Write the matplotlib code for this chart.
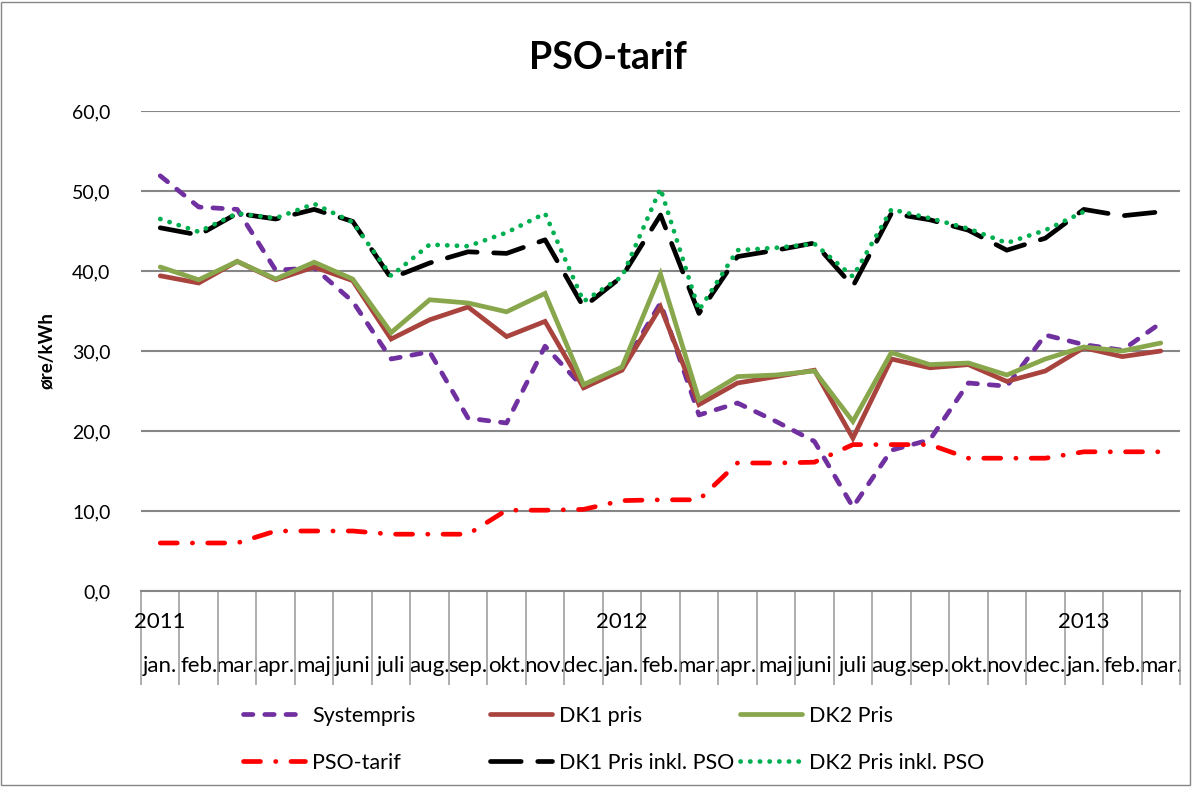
import numpy as np
import matplotlib
matplotlib.use("Agg")
from matplotlib import pyplot as plt
from matplotlib.patches import Rectangle
from matplotlib.transforms import blended_transform_factory

plt.rcParams['font.family'] = ['Lato', 'DejaVu Sans']

months = ['jan.', 'feb.', 'mar.', 'apr.', 'maj', 'juni', 'juli', 'aug.', 'sep.',
          'okt.', 'nov.', 'dec.', 'jan.', 'feb.', 'mar.', 'apr.', 'maj', 'juni',
          'juli', 'aug.', 'sep.', 'okt.', 'nov.', 'dec.', 'jan.', 'feb.', 'mar.']
years = {0: '2011', 12: '2012', 24: '2013'}

systempris = [51.9, 48.0, 47.7, 40.1, 40.4, 36.2, 29.0, 29.9, 21.6, 21.0, 30.6, 25.4,
              27.9, 36.0, 22.0, 23.5, 21.2, 18.7, 10.5, 17.6, 18.9, 26.0, 25.6, 32.0,
              30.8, 30.1, 33.5]
dk1_pris = [39.4, 38.5, 41.2, 38.9, 40.5, 38.8, 31.5, 33.9, 35.5, 31.8, 33.7, 25.4,
            27.6, 35.5, 23.3, 26.0, 26.8, 27.6, 19.1, 29.0, 27.9, 28.3, 26.2, 27.5,
            30.4, 29.3, 30.0]
dk2_pris = [40.5, 38.9, 41.2, 39.0, 41.1, 39.0, 32.3, 36.4, 36.0, 34.9, 37.2, 25.8,
            28.0, 39.6, 23.9, 26.8, 27.0, 27.5, 21.2, 29.8, 28.3, 28.5, 27.0, 29.0,
            30.5, 30.0, 31.0]
pso_tarif = [6.0, 6.0, 6.0, 7.5, 7.5, 7.5, 7.1, 7.1, 7.1, 10.1, 10.1, 10.2,
             11.3, 11.4, 11.4, 16.0, 16.0, 16.1, 18.3, 18.3, 18.3, 16.6, 16.6, 16.6,
             17.4, 17.4, 17.4]
dk1_inkl_pso = [45.4, 44.5, 47.2, 46.5, 47.7, 46.2, 39.1, 41.0, 42.4, 42.2, 43.9, 35.5,
                39.3, 47.0, 34.7, 41.8, 42.6, 43.5, 38.1, 47.2, 46.4, 45.1, 42.6, 44.1,
                47.7, 46.9, 47.4]
dk2_inkl_pso = [46.5, 44.9, 47.2, 46.6, 48.4, 46.1, 39.4, 43.3, 43.1, 44.8, 47.2, 36.2,
                39.3, 50.3, 35.1, 42.6, 42.9, 43.4, 39.3, 47.7, 46.6, 45.3, 43.5, 45.1,
                47.4, np.nan, np.nan]

yticks = [0, 10, 20, 30, 40, 50, 60]
GRID = '#868686'

fig = plt.figure(figsize=(11.92, 7.87), dpi=100)
ax = fig.add_axes([141 / 1192, 1 - 591 / 787, (1180 - 141) / 1192, 480 / 787])

x = np.arange(len(months))
lw = 3.4
series = [
    (systempris, 'Systempris', '#7030A0', (0, (2.0, 2.5))),
    (dk1_pris, 'DK1 pris', '#A9433E', '-'),
    (dk2_pris, 'DK2 Pris', '#88A64B', '-'),
    (pso_tarif, 'PSO-tarif', '#FF0000', (0, (3.6, 3.2, 0.05, 3.2))),
    (dk1_inkl_pso, 'DK1 Pris inkl. PSO', '#000000', (0, (6.5, 3.5))),
    (dk2_inkl_pso, 'DK2 Pris inkl. PSO', '#00B050', (0, (0.05, 2.0))),
]
handles = []
for vals, name, color, ls in series:
    ln, = ax.plot(x, vals, color=color, lw=lw, linestyle=ls, label=name,
                  dash_capstyle='round', solid_capstyle='round',
                  solid_joinstyle='miter', clip_on=False)
    handles.append(ln)

ax.set_xlim(-0.5, len(months) - 0.5)
ax.set_ylim(0, 60)
ax.set_yticks(yticks)
ax.set_yticklabels([f'{v:.1f}'.replace('.', ',') for v in yticks], fontsize=14)
ax.yaxis.grid(True, color=GRID, lw=1.5)
ax.set_axisbelow(True)
ax.tick_params(axis='y', length=0, pad=22)

for s in ['top', 'right', 'left']:
    ax.spines[s].set_visible(False)
ax.spines['bottom'].set_color(GRID)
ax.spines['bottom'].set_linewidth(1.5)

# month labels and category separators
ax.set_xticks(x)
ax.set_xticklabels(months, fontsize=16)
ax.tick_params(axis='x', which='major', length=0, pad=47)
ax.set_xticks(np.arange(len(months) + 1) - 0.5, minor=True)
ax.tick_params(axis='x', which='minor', length=94 * 0.72, width=1.2, color='#A0A0A0')

trans = blended_transform_factory(ax.transData, ax.transAxes)
for i, yr in years.items():
    ax.text(i, -31 / 480, yr, transform=trans, ha='center', va='center', fontsize=16)

ax.set_ylabel('øre/kWh', fontsize=13.5, fontweight='bold', labelpad=12)
fig.text(608 / 1192, 1 - 58 / 787, 'PSO-tarif', ha='center', va='center',
         fontsize=27, fontweight='bold')

# legend: three columns, two rows
cols = [(0, 3, 243), (1, 4, 490), (2, 5, 740)]
for a, b, xpos in cols:
    fig.legend([handles[a], handles[b]], [series[a][1], series[b][1]],
               loc='upper left', bbox_to_anchor=(xpos / 1192, 1 - 706 / 787),
               frameon=False, fontsize=15.5, handlelength=2.9, handletextpad=0.3,
               labelspacing=1.25, borderaxespad=0, borderpad=0)

fig.patches.append(Rectangle((0.001, 0.002), 0.997, 0.996, transform=fig.transFigure,
                             fill=False, edgecolor=GRID, lw=1))

fig.savefig('out.png', dpi=100)
